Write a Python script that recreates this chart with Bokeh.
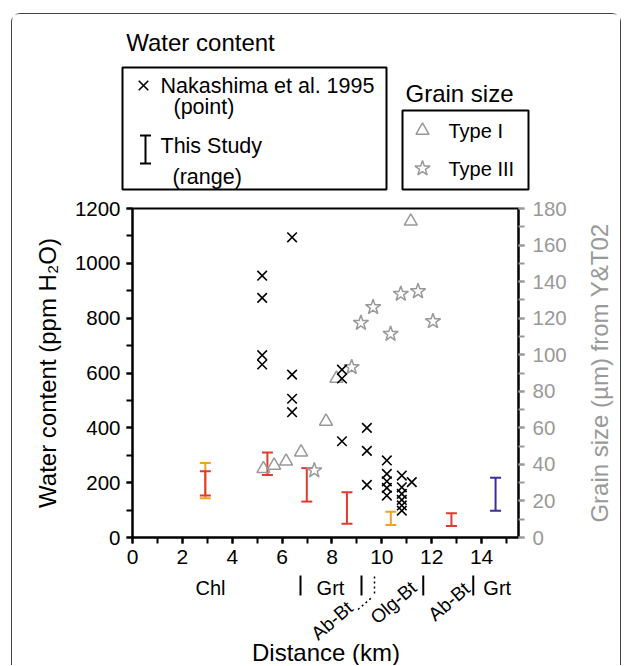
from bokeh.plotting import figure
from bokeh.models import (ColumnDataSource, Range1d, LinearAxis, SingleIntervalTicker,
                          FixedTicker, Whisker, TeeHead)
from bokeh.layouts import column, row
from bokeh.core.properties import value
from bokeh.embed import file_html
from bokeh.resources import INLINE

FONT = "Liberation Sans"
GRAY = "#999999"
RED = "#e23a2e"
ORANGE = "#f5a31a"
BLUE = "#3a2e9c"

# ---- data ----
# Water content, Nakashima et al. 1995 (points): distance (km), ppm H2O
nak_x = [5.2, 5.2, 5.2, 5.2, 6.4, 6.4, 6.4, 6.4, 8.4, 8.4, 8.4, 9.4, 9.4, 9.4,
         10.2, 10.2, 10.2, 10.2, 10.2, 10.8, 10.8, 10.8, 10.8, 10.8, 10.8, 11.2]
nak_w = [955, 874, 665, 631, 1095, 594, 506, 457, 612, 580, 351, 400, 316, 192,
         281, 232, 205, 181, 153, 226, 183, 159, 137, 117, 98, 202]

# Water content, This Study (ranges)
ts_x = [2.92, 2.92, 5.41, 6.99, 8.6, 10.36, 12.79, 14.56]
ts_lo = [143, 153, 228, 131, 50, 46, 42, 98]
ts_hi = [272, 242, 310, 253, 165, 94, 88, 218]
ts_group = ["orange", "red", "red", "red", "red", "orange", "red", "blue"]

# Grain size (um) from Y&T02
t1_x = [5.25, 5.68, 6.16, 6.76, 7.76, 8.18, 11.16]
t1_g = [37.6, 39.4, 41.7, 46.7, 63.5, 87.0, 173.0]
t3_x = [7.29, 8.79, 9.16, 9.65, 10.35, 10.76, 11.45, 12.05]
t3_g = [36.7, 93.2, 117.4, 126.0, 111.4, 133.3, 134.7, 118.3]

# Metamorphic zones along the section (km)
zone_bounds = [6.72, 9.16, 11.63, 13.63]
zone_dotted = [9.68]
zone_flat_names = ["Chl", "Grt", "Grt"]
zone_flat_x = [3.12, 7.92, 14.59]
zone_tilt_names = ["Ab-Bt", "Olg-Bt", "Ab-Bt"]
zone_tilt_x = [7.98, 10.44, 12.66]

# ---- legend panel (top); coordinates are page pixels ----
top = figure(width=608, height=183, x_range=Range1d(12, 620), y_range=Range1d(197, 14),
             output_backend="svg", toolbar_location=None, min_border=0,
             x_axis_location=None, y_axis_location=None, outline_line_color=None)
top.grid.visible = False
top.text(x=[200, 459], y=[42, 93], text=["Water content", "Grain size"],
         text_font=value(FONT), text_font_size="24px", text_align="center",
         text_baseline="middle", text_color="black")
top.quad(left=[122, 402], right=[386, 528], top=[67, 110], bottom=[189, 189],
         fill_color=None, line_color="black", line_width=2)
top.scatter(x=[143], y=[85], marker="x", size=13.5, line_color="black", line_width=1.6)
top.segment(x0=[145, 139.5, 139.5], y0=[135, 135, 163], x1=[145, 150.5, 150.5],
            y1=[163, 135, 163], line_color="black", line_width=2)
top.text(x=[160, 173, 160, 172], y=[85, 106, 145, 176],
         text=["Nakashima et al. 1995", "(point)", "This Study", "(range)"],
         text_font=value(FONT), text_font_size="21.5px", text_align="left",
         text_baseline="middle", text_color="black")
top.scatter(x=[422], y=[130], marker="triangle", size=13, fill_color=None,
            line_color=GRAY, line_width=1.5)
top.scatter(x=[422], y=[168], marker="star", size=16, fill_color=None,
            line_color=GRAY, line_width=1.5)
top.text(x=[448, 448], y=[130, 168], text=["Type I", "Type III"],
         text_font=value(FONT), text_font_size="20px", text_align="left",
         text_baseline="middle", text_color="black")

# ---- main plot ----
p = figure(width=557, height=376, x_range=Range1d(0, 15.48), y_range=Range1d(0, 1200),
           output_backend="svg", toolbar_location=None,
           min_border_left=120, min_border_right=50, min_border_top=11, min_border_bottom=36,
           outline_line_color="black", outline_line_width=2)
p.grid.visible = False
p.extra_y_ranges = {"grain": Range1d(0, 180)}
raxis = LinearAxis(y_range_name="grain")
p.add_layout(raxis, "right")

p.xaxis.ticker = SingleIntervalTicker(interval=2, num_minor_ticks=2)
p.yaxis[0].ticker = SingleIntervalTicker(interval=200, num_minor_ticks=2)
raxis.ticker = SingleIntervalTicker(interval=20, num_minor_ticks=2)
p.yaxis[0].axis_label = "Water content (ppm H\u2082O)"

for ax in [p.xaxis[0], p.yaxis[0], raxis]:
    ax.major_label_text_font = FONT
    ax.major_label_text_font_size = "20.5px"
    ax.major_label_text_color = "black"
    ax.axis_label_text_font = FONT
    ax.axis_label_text_font_size = "24px"
    ax.axis_label_text_font_style = "normal"
    ax.axis_label_text_color = "black"
    ax.major_tick_in = 0
    ax.major_tick_out = 6
    ax.minor_tick_in = 0
    ax.minor_tick_out = 6
    ax.major_tick_line_width = 2
    ax.minor_tick_line_width = 2
    ax.major_tick_line_color = "black"
    ax.minor_tick_line_color = "black"
    ax.axis_line_width = 2
    ax.axis_line_color = "black"

p.xaxis.major_label_text_font_size = "21px"
p.xaxis.major_label_standoff = 6
p.yaxis[0].major_label_standoff = 6
p.yaxis[0].axis_label_standoff = 11
raxis.major_label_standoff = 8
raxis.major_label_text_color = GRAY
raxis.major_tick_line_color = GRAY
raxis.minor_tick_line_color = GRAY

# This Study ranges
for grp, col in [("orange", ORANGE), ("red", RED), ("blue", BLUE)]:
    idx = [i for i, g in enumerate(ts_group) if g == grp]
    src = ColumnDataSource(dict(x=[ts_x[i] for i in idx], lo=[ts_lo[i] for i in idx],
                                hi=[ts_hi[i] for i in idx]))
    p.add_layout(Whisker(source=src, base="x", lower="lo", upper="hi", dimension="height",
                         line_color=col, line_width=2,
                         lower_head=TeeHead(size=11, line_color=col, line_width=2),
                         upper_head=TeeHead(size=11, line_color=col, line_width=2)))

p.scatter(t1_x, t1_g, marker="triangle", size=13, fill_color=None, line_color=GRAY,
          line_width=1.5, y_range_name="grain")
p.scatter(t3_x, t3_g, marker="star", size=16, fill_color=None, line_color=GRAY,
          line_width=1.5, y_range_name="grain")
p.scatter(nak_x, nak_w, marker="x", size=13.5, line_color="black", line_width=1.6)

# ---- right axis title panel ----
rfig = figure(width=51, height=376, x_range=Range1d(0, 1), y_range=Range1d(0, 180),
              output_backend="svg", toolbar_location=None,
              min_border_left=43, min_border_right=0, min_border_top=11, min_border_bottom=36,
              x_axis_location=None, y_axis_location="left", outline_line_color=None)
rfig.grid.visible = False
ra = rfig.yaxis[0]
ra.ticker = FixedTicker(ticks=[])
ra.axis_line_color = None
ra.major_tick_line_color = None
ra.minor_tick_line_color = None
ra.major_label_text_font_size = "0px"
ra.axis_label = "Grain size (\u00b5m) from Y&T02"
ra.axis_label_text_font = FONT
ra.axis_label_text_font_size = "24px"
ra.axis_label_text_font_style = "normal"
ra.axis_label_text_color = GRAY
ra.axis_label_standoff = 0

# ---- zone labels + axis title panel (bottom); x in km, y in page pixels ----
bot = figure(width=608, height=92, x_range=p.x_range, y_range=Range1d(665, 573),
             output_backend="svg", toolbar_location=None,
             min_border_left=120, min_border_right=101, min_border_top=0, min_border_bottom=0,
             x_axis_location=None, y_axis_location=None, outline_line_color=None)
bot.grid.visible = False
bot.text(x=zone_flat_x, y=[587] * len(zone_flat_x), text=zone_flat_names,
         text_font=value(FONT), text_font_size="20px", text_align="center",
         text_baseline="middle", text_color="black")
bot.text(x=zone_tilt_x, y=[620, 602, 601], text=zone_tilt_names, angle=41, angle_units="deg",
         text_font=value(FONT), text_font_size="19px", text_align="center",
         text_baseline="middle", text_color="black")
bot.segment(x0=zone_bounds, x1=zone_bounds, y0=[575] * len(zone_bounds),
            y1=[595] * len(zone_bounds), line_color="black", line_width=2)
bot.segment(x0=zone_dotted, x1=zone_dotted, y0=[576], y1=[593], line_color="black",
            line_width=1.5, line_dash="2 3")
bot.segment(x0=[9.02], x1=[9.62], y0=[609], y1=[596], line_color="black",
            line_width=1.5, line_dash="2 3")
bot.text(x=[7.74], y=[652], text=["Distance (km)"], text_font=value(FONT),
         text_font_size="24px", text_align="center", text_baseline="middle",
         text_color="black")

layout = column(row(top), row(p, rfig), row(bot), margin=(13, 0, 0, 11),
                styles={"border": "1px solid #444", "border-bottom": "none",
                        "border-radius": "9px 9px 0 0"})

open("out.html", "w").write(file_html(layout, INLINE))
